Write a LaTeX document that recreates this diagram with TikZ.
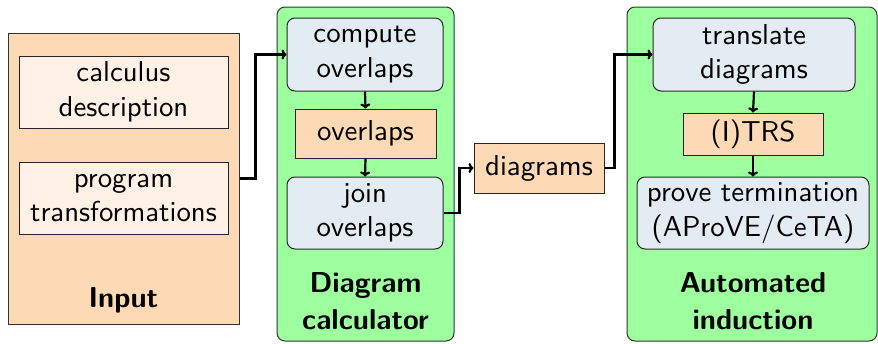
\documentclass[tikz,border=0pt]{standalone}
\usepackage{fontspec}
\setsansfont{lmsans10-regular.otf}[BoldFont=lmsans10-bold.otf]
\usetikzlibrary{arrows.meta}
\definecolor{inorange}{RGB}{253,217,181}
\definecolor{inlight}{RGB}{255,241,229}
\definecolor{ingreen}{RGB}{157,255,157}
\definecolor{inblue}{RGB}{228,236,243}
\begin{document}
\begin{tikzpicture}[x=1pt,y=-1pt,
  font=\fontsize{28.8}{34.6}\sffamily\selectfont,
  container/.style={draw=black!80, line width=1pt, inner sep=0pt},
  inbox/.style={draw=black!85, line width=1pt, fill=inlight, align=center, inner sep=0pt},
  prodbox/.style={draw=black!85, line width=1pt, fill=inorange, align=center, inner sep=0pt},
  procbox/.style={draw=black!85, line width=1pt, fill=inblue, rounded corners=8pt, align=center, inner sep=0pt},
  title/.style={font=\fontsize{28.8}{37}\sffamily\bfseries\selectfont, align=center, inner sep=0pt},
  arr/.style={-{To[length=5pt,width=10pt]}, line width=2.2pt, black}]
\useasboundingbox (0,0) rectangle (878,343);
% containers
\node[container, fill=inorange, minimum width=231pt, minimum height=291pt] (input) at (123.5,178.5) {};
\node[container, fill=ingreen, rounded corners=8pt, minimum width=177pt, minimum height=334pt] (dcalc) at (365.5,174) {};
\node[container, fill=ingreen, rounded corners=8pt, minimum width=250pt, minimum height=334pt] (auto) at (752,174) {};
% input
\node[inbox, minimum width=209pt, minimum height=72pt] (calc) at (123.5,92) {calculus\\description};
\node[inbox, minimum width=209pt, minimum height=72pt] (prog) at (123.5,198) {program\\transformations};
\node[title] (inlabel) at (123.5,300) {Input};
% diagram calculator
\node[procbox, minimum width=156pt, minimum height=73pt] (comp) at (365,54.5) {compute\\overlaps};
\node[prodbox, minimum width=141pt, minimum height=49pt] (ovl) at (365.5,133.5) {overlaps};
\node[procbox, minimum width=156pt, minimum height=72pt] (join) at (365,213) {join\\overlaps};
\node[title] (dclabel) at (365.5,301.5) {Diagram\\calculator};
% diagrams
\node[prodbox, minimum width=130pt, minimum height=50pt] (diag) at (539,168) {diagrams};
% automated induction
\node[procbox, minimum width=202pt, minimum height=73pt] (trans) at (754,54.5) {translate\\diagrams};
\node[prodbox, minimum width=140pt, minimum height=42pt] (itrs) at (753,134) {(I)TRS};
\node[procbox, minimum width=232pt, minimum height=72pt] (prove) at (753,213) {prove termination\\(AProVE/CeTA)};
\node[title] (ailabel) at (753,301.5) {Automated\\induction};
% connectors
\draw[arr] (input.east) -- ++(16,0) |- (comp.west);
\draw[arr] (comp.south) -- (ovl.north);
\draw[arr] (ovl.south) -- (join.north);
\draw[arr] (join.east) -- ++(16,0) |- (diag.west);
\draw[arr] (diag.east) -- ++(10,0) |- (trans.west);
\draw[arr] (trans.south) -- (itrs.north);
\draw[arr] (itrs.south) -- (prove.north);
\end{tikzpicture}
\end{document}
